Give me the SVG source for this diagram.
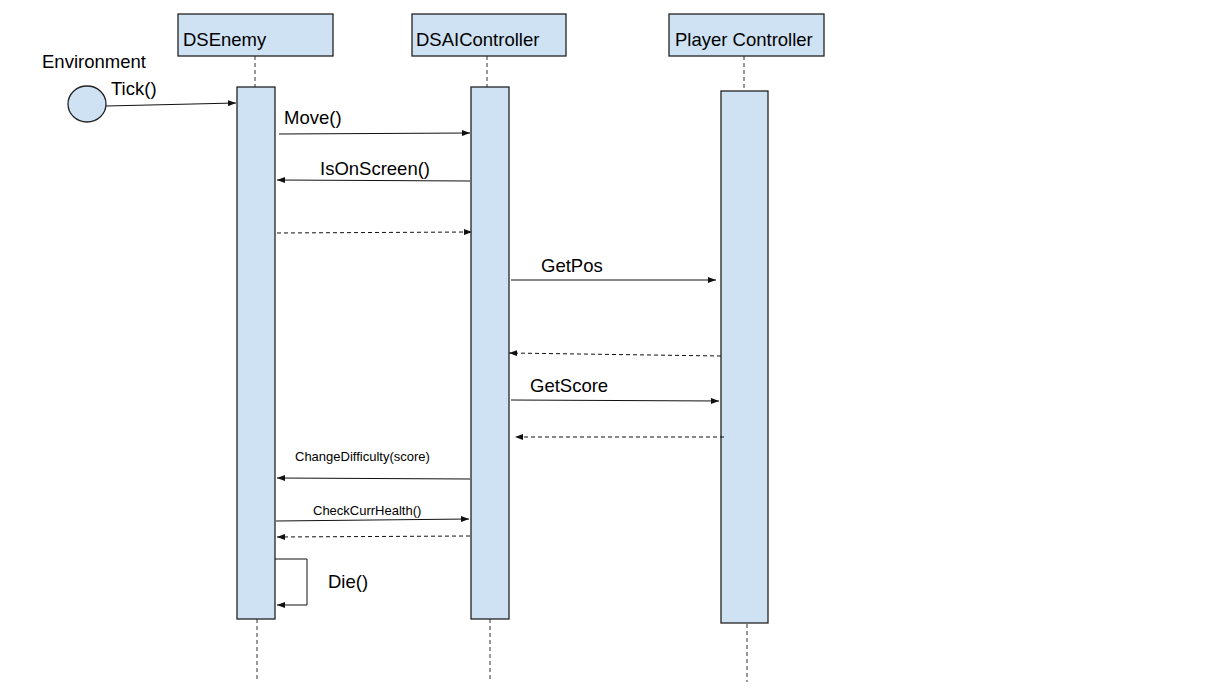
<svg xmlns="http://www.w3.org/2000/svg" width="1216" height="696" viewBox="0 0 1216 696">
<style>
.box{fill:#cfe2f3;stroke:#222;stroke-width:1.3}
.life{stroke:#333;stroke-width:1;stroke-dasharray:4,3;fill:none}
.msg{stroke:#111;stroke-width:1;fill:none;marker-end:url(#ah)}
.ret{stroke:#111;stroke-width:1;fill:none;stroke-dasharray:4,3;marker-end:url(#ah)}
.t{font-family:"Liberation Sans",Arial,sans-serif;font-size:18.5px;fill:#000}
.s{font-family:"Liberation Sans",Arial,sans-serif;font-size:13px;fill:#000}
</style>
<defs>
<marker id="ah" viewBox="0 0 8 6" refX="8" refY="3" markerWidth="8" markerHeight="6" markerUnits="userSpaceOnUse" orient="auto">
<path d="M0,0 L8,3 L0,6 z" fill="#111"/>
</marker>
</defs>
<rect width="1216" height="696" fill="#fff"/>
<g id="lifelines">
<line class="life" x1="255" y1="56" x2="255" y2="87"/>
<line class="life" x1="257" y1="619" x2="257" y2="682"/>
<line class="life" x1="487" y1="56" x2="487" y2="87"/>
<line class="life" x1="490" y1="619" x2="490" y2="682"/>
<line class="life" x1="744" y1="56" x2="744" y2="91"/>
<line class="life" x1="747" y1="624" x2="747" y2="682"/>
</g>
<g id="environment">
<text class="t" x="42" y="68">Environment</text>
<ellipse class="box" cx="87" cy="104" rx="19" ry="18"/>
</g>
<g id="dsenemy">
<rect class="box" x="178" y="14" width="155" height="42"/>
<text class="t" x="183" y="46">DSEnemy</text>
<rect class="box" x="237" y="87" width="38" height="532"/>
</g>
<g id="dsaicontroller">
<rect class="box" x="412" y="14" width="154" height="42"/>
<text class="t" x="416" y="46">DSAIController</text>
<rect class="box" x="471" y="87" width="38" height="532"/>
</g>
<g id="playercontroller">
<rect class="box" x="669" y="14" width="155" height="42"/>
<text class="t" x="675" y="46">Player Controller</text>
<rect class="box" x="721" y="91" width="47" height="532"/>
</g>
<g id="connectors">
<line class="msg" x1="106" y1="106" x2="236" y2="103"/>
<text class="t" x="111" y="95">Tick()</text>
<line class="msg" x1="279" y1="134" x2="470" y2="133"/>
<text class="t" x="284" y="124">Move()</text>
<line class="msg" x1="470" y1="181" x2="277" y2="180"/>
<text class="t" x="320" y="175">IsOnScreen()</text>
<line class="ret" x1="277" y1="233" x2="472" y2="232"/>
<line class="msg" x1="511" y1="280" x2="716" y2="280"/>
<text class="t" x="541" y="272">GetPos</text>
<line class="ret" x1="721" y1="356" x2="509" y2="353"/>
<line class="msg" x1="511" y1="400" x2="719" y2="401"/>
<text class="t" x="530" y="392">GetScore</text>
<line class="ret" x1="724" y1="437" x2="515" y2="437"/>
<line class="msg" x1="470" y1="479" x2="277" y2="478"/>
<text class="s" x="295" y="461">ChangeDifficulty(score)</text>
<line class="msg" x1="276" y1="521" x2="469" y2="519"/>
<text class="s" x="313" y="515">CheckCurrHealth()</text>
<line class="ret" x1="470" y1="536" x2="277" y2="537"/>
<polyline class="msg" points="275,559 307,559 307,605 277,605"/>
<text class="t" x="328" y="588">Die()</text>
</g>
</svg>
